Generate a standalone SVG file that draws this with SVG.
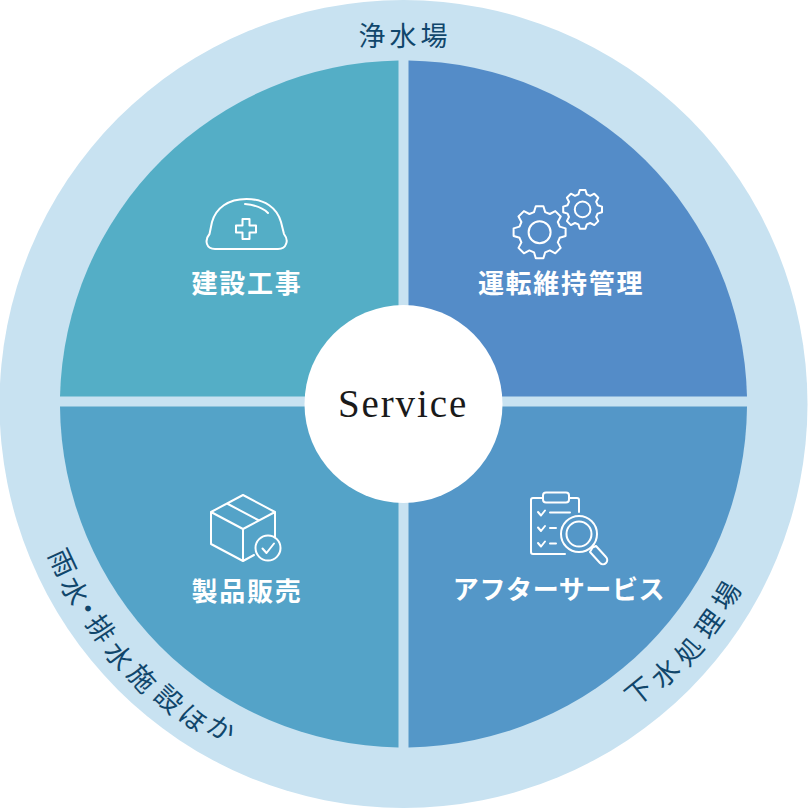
<svg xmlns="http://www.w3.org/2000/svg" width="808" height="808" viewBox="0 0 808 808">
<style>
.ring{font:400 27px "Noto Sans CJK JP","Noto Sans",sans-serif;fill:#10466b;text-anchor:middle;dominant-baseline:central}
.lab{font:700 26px "Noto Sans CJK JP","Noto Sans",sans-serif;fill:#fff;text-anchor:middle;letter-spacing:1.7px}
.ic{fill:none;stroke:#fff;stroke-width:2;stroke-linecap:round;stroke-linejoin:round}
</style>
<circle id="ring" cx="403.500" cy="404" r="404" fill="#c8e2f1"/>
<g id="quadrant-build">
<path d="M398.500 60.500V396.500H60A344 344 0 0 1 398.500 60.500Z" fill="#54aec6"/>
<path class="ic" d="M209.500 234L212 222C216 208 228 199 246.500 199C265 199 277 208 281 222L284 234C287 238 287 242 286 244C285 247 282 249 278 249H215C211 249 208 247 207 244C206 241 207 237 209.500 234Z"/>
<path class="ic" d="M245 204C255 205 263 208 268 213M242.500 219H249.500V225.500H256V232.500H249.500V239H242.500V232.500H236V225.500H242.500Z"/>
<text class="lab" x="247" y="293">建設工事</text>
</g>
<g id="quadrant-operate">
<path d="M408.500 60.500V396.500H747A344 344 0 0 0 408.500 60.500Z" fill="#548cc8"/>
<g class="ic">
<path d="M535.800 206.200H543.400L545.200 212.100L549.800 214L555.300 211.100L560.700 216.500L557.800 222L559.700 226.600L565.600 228.400V236L559.700 237.800L557.800 242.400L560.700 247.900L555.300 253.300L549.800 250.400L545.200 252.300L543.400 258.200H535.800L534 252.300L529.400 250.400L523.900 253.300L518.500 247.900L521.400 242.400L519.500 237.800L513.600 236V228.400L519.500 226.600L521.400 222L518.500 216.500L523.900 211.100L529.400 214L534 212.100Z"/>
<circle cx="539.600" cy="232.200" r="11"/>
<path d="M579.800 190H585.400L586.800 194.400L590.200 195.800L594.300 193.700L598.300 197.700L596.200 201.800L597.600 205.200L602 206.600V212.200L597.600 213.600L596.200 217L598.300 221.100L594.300 225.100L590.200 223L586.800 224.400L585.400 228.800H579.800L578.400 224.400L575 223L570.900 225.100L566.900 221.100L569 217L567.600 213.600L563.200 212.200V206.600L567.600 205.200L569 201.800L566.900 197.700L570.900 193.700L575 195.800L578.400 194.400Z"/>
<circle cx="582.600" cy="209.400" r="7.800"/>
</g>
<text class="lab" x="561" y="293">運転維持管理</text>
</g>
<g id="quadrant-sales">
<path d="M398.500 747.500V406.500H60A344 344 0 0 0 398.500 747.500Z" fill="#54a3c8"/>
<g class="ic">
<path d="M243 495L275 512V537M243 495L211 512V544L243 561L254 555M211 512L243 529L275 512M243 529V561M227 503.500L259 520.500"/>
<circle cx="268" cy="548" r="12.500"/>
<path d="M262.500 548.500L266.500 553L274 543.500"/>
</g>
<text class="lab" x="247" y="601">製品販売</text>
</g>
<g id="quadrant-aftercare">
<path d="M408.500 747.500V406.500H747A344 344 0 0 1 408.500 747.500Z" fill="#5497c8"/>
<g class="ic">
<path d="M543 498H533A2 2 0 0 0 531 500V552A2 2 0 0 0 533 554H565M569 498H577A2 2 0 0 1 579 500V512"/>
<rect x="543" y="492.500" width="26" height="10" rx="3"/>
<path d="M538 512L541 515.500L545 510.500M550 512.500H570M538 527.500L541 531L545 526M550 528H556M538 543L541 546.500L545 541.500M550 543.500H556"/>
<circle cx="579" cy="534" r="18"/>
<circle cx="579" cy="534" r="12.500"/>
<path d="M592.500 547.500L590 552L600 563A4 4 0 0 0 606 557L596 546Z"/>
</g>
<text class="lab" x="559" y="599" style="letter-spacing:.6px">アフターサービス</text>
</g>
<g id="hub">
<circle cx="403.500" cy="404" r="99" fill="#fff"/>
<text x="403" y="417" font-family="'Liberation Serif',serif" font-size="39" letter-spacing="1.900" fill="#1a1a1a" text-anchor="middle">Service</text>
</g>
<g id="ring-labels">
<text class="ring" transform="translate(372 34)">浄</text>
<text class="ring" transform="translate(403 34)">水</text>
<text class="ring" transform="translate(434 34)">場</text>
<text class="ring" transform="translate(64 562) rotate(65)">雨</text>
<text class="ring" transform="translate(76 590) rotate(62)">水</text>
<text class="ring" transform="translate(89 608) rotate(59)">・</text>
<text class="ring" transform="translate(102 628) rotate(56)">排</text>
<text class="ring" transform="translate(120 655) rotate(52)">水</text>
<text class="ring" transform="translate(143 677) rotate(48)">施</text>
<text class="ring" transform="translate(170 698) rotate(43)">設</text>
<text class="ring" transform="translate(194 717) rotate(39)">ほ</text>
<text class="ring" transform="translate(222 727) rotate(30)">か</text>
<text class="ring" transform="translate(638 690) rotate(-39)">下</text>
<text class="ring" transform="translate(664 672) rotate(-44)">水</text>
<text class="ring" transform="translate(688 650) rotate(-49)">処</text>
<text class="ring" transform="translate(708 623) rotate(-54)">理</text>
<text class="ring" transform="translate(725 595) rotate(-59)">場</text>
</g>
</svg>
